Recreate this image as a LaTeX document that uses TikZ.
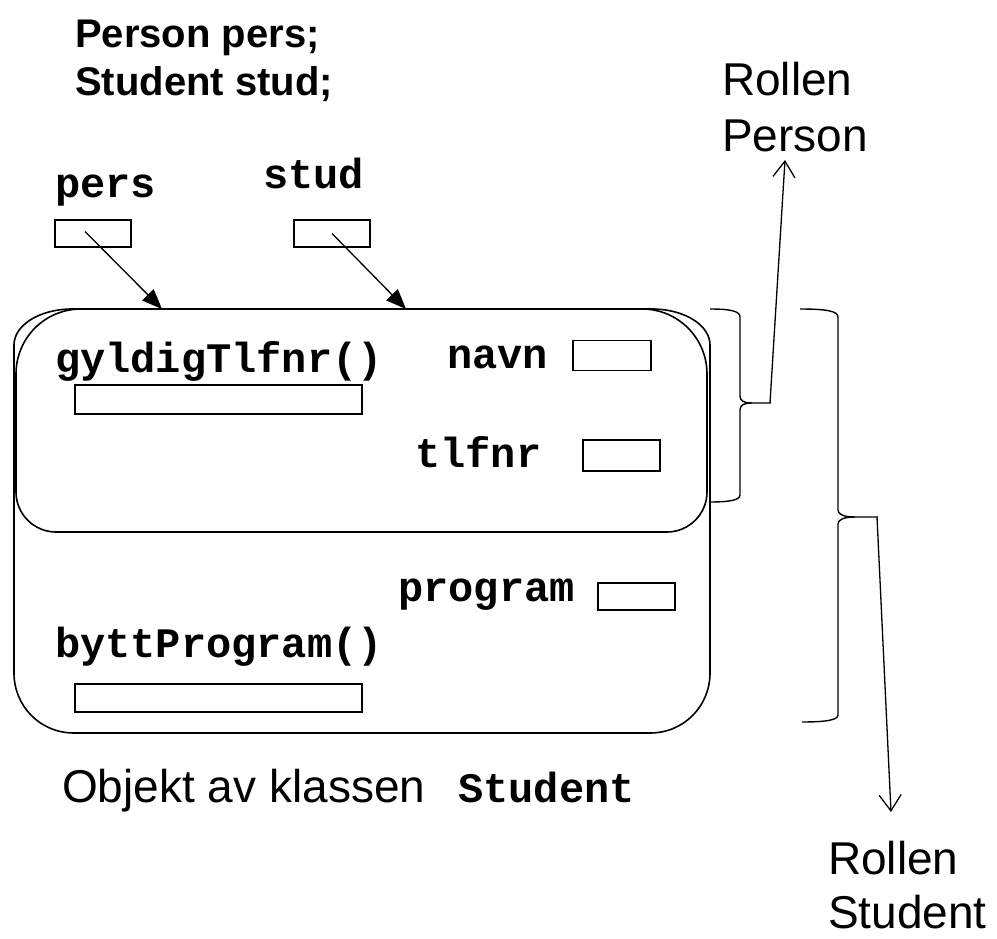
\documentclass[tikz,border=0pt]{standalone}
\usepackage{fontspec}
\setmainfont{Liberation Sans}
\newfontfamily\monof{Liberation Mono}
\usetikzlibrary{arrows.meta}
\begin{document}
\begin{tikzpicture}[x=1pt,y=-1pt,
  code/.style={font=\monof\bfseries\fontsize{42}{42}\selectfont, inner sep=0pt, anchor=base west},
  decl/.style={font=\bfseries\fontsize{40}{40}\selectfont, inner sep=0pt, anchor=base west},
  sans/.style={font=\fontsize{46}{46}\selectfont, inner sep=0pt, anchor=base west},
  slot/.style={draw, line width=1.6pt, inner sep=0pt, minimum height=27pt},
  wall/.style={line width=1.6pt},
  brace/.style={line width=1.4pt},
  ptr/.style={line width=1.3pt, -{Triangle[length=20pt,width=16pt]}},
  role/.style={line width=1.3pt, -{Straight Barb[length=16pt,width=22pt]}}
]
\useasboundingbox (0,0) rectangle (997,939);

% declarations
\node[decl] (d1) at (75,48) {Person pers;};
\node[decl] (d2) at (75,96) {Student stud;};

% reference variables
\node[code] (lpers) at (55,197) {pers};
\node[code] (lstud) at (263,189) {stud};
\node[slot, minimum width=76pt] (persbox) at (93,233.5) {};
\node[slot, minimum width=76pt] (studbox) at (332,233.5) {};

% student object (outer)
\draw[wall] (14,345) .. controls (14,325) and (40,309) .. (72,309)
  -- (652,309) .. controls (684,309) and (710,325) .. (710,345)
  -- (710,673) .. controls (710,706) and (684,733) .. (650,733)
  -- (74,733) .. controls (40,733) and (14,706) .. (14,673) -- cycle;
% person part
\draw[wall] (16,374) .. controls (16,338) and (45,309) .. (81,309)
  -- (642,309) .. controls (678,309) and (707,338) .. (707,374)
  -- (707,492) .. controls (707,514) and (689,532) .. (667,532)
  -- (56,532) .. controls (34,532) and (16,514) .. (16,492) -- cycle;

\coordinate (pa) at (162,309);
\coordinate (sa) at (406,309);
\draw[ptr] ([xshift=-8pt,yshift=2pt]persbox.center) -- (pa);
\draw[ptr] (studbox.center) -- (sa);

% members
\node[code] (gyl) at (55,372) {gyldigTlfnr()};
\node[slot, minimum width=287pt, line width=1.3pt, minimum height=29pt] (gylbox) at (218.5,399.5) {};
\node[code] (navn) at (447,368) {navn};
\node[slot, minimum width=78pt, minimum height=30pt] (navnbox) at (612,355.5) {};
\node[code] (tlf) at (415,467) {tlfnr};
\node[slot, minimum width=77pt, minimum height=31pt] (tlfbox) at (621.5,455.5) {};
\node[code] (prog) at (398,601) {program};
\node[slot, minimum width=77pt, minimum height=27pt] (progbox) at (636.5,596.5) {};
\node[code] (bytt) at (55,657) {byttProgram()};
\node[slot, minimum width=287pt, line width=1.3pt, minimum height=28pt] (byttbox) at (218.5,698) {};

% caption
\node[sans] (cap) at (62,802) {Objekt av klassen};
\node[code] (capc) at (458,802) {Student};

% braces
\draw[brace] (710,309) .. controls (730,309) and (740,311) .. (740,317)
  -- (740,396) .. controls (740,401) and (744,403) .. (752,403) -- (771,403);
\draw[brace] (752,403) .. controls (744,403) and (740,405) .. (740,410)
  -- (740,495) .. controls (740,500) and (730,502) .. (710,502);
\coordinate (ptip) at (770,403);

\draw[brace] (800,309) .. controls (826,309) and (838,311) .. (838,317)
  -- (838,510) .. controls (838,514) and (843,517) .. (855,517) -- (878,517);
\draw[brace] (855,517) .. controls (843,517) and (838,520) .. (838,524)
  -- (838,715) .. controls (838,720) and (826,722) .. (802,722);
\coordinate (stip) at (877,517);

% roles
\node[sans] (r1a) at (722,96) {Rollen};
\node[sans] (r1b) at (722,152) {Person};
\node[sans] (r2a) at (828,874) {Rollen};
\node[sans] (r2b) at (828,928) {Student};
\coordinate (pend) at (785,160);
\coordinate (send) at (891,812);
\draw[role] (ptip) -- (pend);
\draw[role] (stip) -- (send);
\end{tikzpicture}
\end{document}
